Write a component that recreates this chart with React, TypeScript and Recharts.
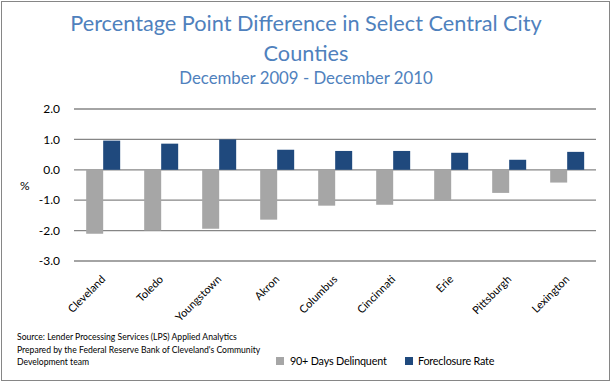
import React from "react";
import { BarChart, Bar, XAxis, YAxis, CartesianGrid } from "recharts";

const cities = ["Cleveland", "Toledo", "Youngstown", "Akron", "Columbus", "Cincinnati", "Erie", "Pittsburgh", "Lexington"];
const delinquent = [-2.1, -2.0, -1.94, -1.64, -1.18, -1.15, -1.0, -0.76, -0.42];
const foreclosure = [0.96, 0.86, 1.0, 0.66, 0.62, 0.62, 0.56, 0.33, 0.59];
const yTicks = [-3, -2, -1, 0, 1, 2];

const data = cities.map((c, i) => ({ city: c, delinquent: delinquent[i], foreclosure: foreclosure[i] }));

const FONT = "Lato, 'Open Sans', sans-serif";
const GRAY = "#a6a6a6";
const BLUE = "#1f497d";
const TITLE = "#4f81bd";

const XTick = (props: any) => {
  const { x, y, payload } = props;
  const tx = x + 3;
  const ty = y + 11;
  return (
    <text
      x={tx}
      y={ty}
      textAnchor="end"
      fontSize={11}
      fontFamily={FONT}
      fill="#000"
      transform={`rotate(-45 ${tx} ${ty})`}
    >
      {payload.value}
    </text>
  );
};

const legendText: React.CSSProperties = { position: "absolute", top: 354, fontSize: 10.8, lineHeight: "14px", letterSpacing: -0.2, color: "#000", whiteSpace: "nowrap" };

export default function App() {
  return (
    <div style={{ position: "absolute", left: 0, top: 0, width: 612, height: 383, background: "#fff", fontFamily: FONT }}>
      <div style={{ position: "absolute", left: 1, top: 1, width: 607, height: 378, border: "1px solid #868686" }} />
      <div style={{ position: "absolute", left: 0, top: 8, width: 612, textAlign: "center", color: TITLE, fontSize: 21.7, lineHeight: "30px" }}>
        Percentage Point Difference in Select Central City
        <br />
        Counties
      </div>
      <div style={{ position: "absolute", left: 0, top: 68, width: 612, textAlign: "center", color: TITLE, fontSize: 16.8, lineHeight: "20px" }}>
        December 2009 - December 2010
      </div>
      <div style={{ position: "absolute", left: 20, top: 178, fontSize: 12, color: "#000" }}>%</div>
      <BarChart
        width={612}
        height={383}
        data={data}
        margin={{ top: 109, right: 16, left: 14, bottom: 2 }}
        barCategoryGap="21%"
        barGap={0}
      >
        <CartesianGrid vertical={false} stroke="#868686" strokeWidth={1.3} />
        <XAxis dataKey="city" axisLine={false} tickLine={false} height={120} interval={0} tick={<XTick />} />
        <YAxis
          domain={[-3, 2]}
          ticks={yTicks}
          width={60}
          axisLine={false}
          tickLine={false}
          tick={{ fontSize: 12, fill: "#000", fontFamily: FONT }}
          tickFormatter={(v: number) => v.toFixed(1)}
          tickMargin={8}
        />
        <Bar dataKey="delinquent" fill={GRAY} isAnimationActive={false} />
        <Bar dataKey="foreclosure" fill={BLUE} isAnimationActive={false} />
      </BarChart>
      <div style={{ position: "absolute", left: 17, top: 331, fontSize: 8.6, lineHeight: "12.5px", color: "#000" }}>
        Source: Lender Processing Services (LPS) Applied Analytics
        <br />
        Prepared by the Federal Reserve Bank of Cleveland's Community
        <br />
        Development team
      </div>
      <div style={{ position: "absolute", left: 276, top: 357, width: 8, height: 8, background: GRAY }} />
      <div style={{ ...legendText, left: 290 }}>90+ Days Delinquent</div>
      <div style={{ position: "absolute", left: 405, top: 357, width: 8, height: 8, background: BLUE }} />
      <div style={{ ...legendText, left: 418 }}>Foreclosure Rate</div>
    </div>
  );
}
